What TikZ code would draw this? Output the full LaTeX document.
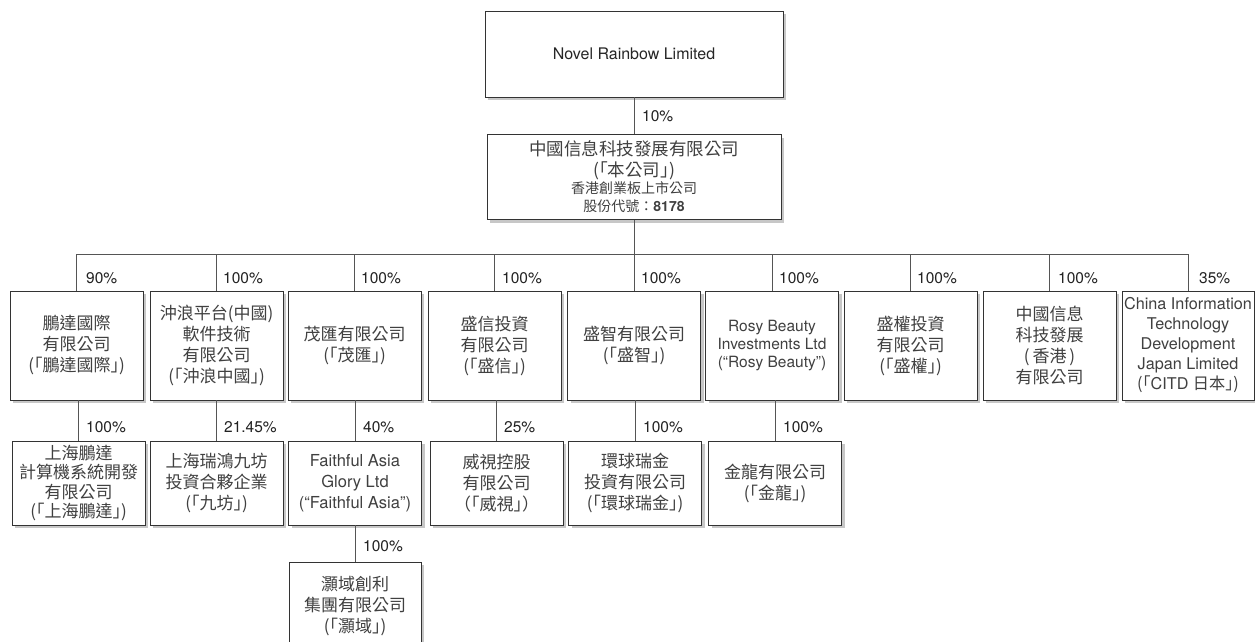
\documentclass[tikz,border=0pt]{standalone}
\usepackage{fontspec}
\setmainfont{TeX Gyre Heros}
\newfontfamily\cjk{Noto Sans CJK TC}
\newfontfamily\lat{TeX Gyre Heros}
\usetikzlibrary{shadows}
\definecolor{txt}{HTML}{404040}
\definecolor{pctc}{HTML}{222222}
\definecolor{linec}{HTML}{555555}
\definecolor{boxc}{HTML}{333333}
\begin{document}
\begin{tikzpicture}[x=1pt,y=-1pt,
  box/.style={draw=boxc, line width=0.9pt, fill=white, align=center, inner sep=1pt,
    text=txt, font=\cjk\fontsize{17}{21}\selectfont,
    drop shadow={shadow xshift=3pt, shadow yshift=-3pt, fill=black!22, opacity=1}},
  rowA/.style={box, minimum width=133pt, minimum height=109pt},
  rowB/.style={box, minimum width=133pt, minimum height=84pt},
  pct/.style={anchor=west, text=pctc, inner sep=0pt, font=\lat\fontsize{15.5}{16}\selectfont},
  conn/.style={draw=linec, line width=0.9pt}]
\useasboundingbox (0,0) rectangle (1255,641);

% top
\node[box, minimum width=298pt, minimum height=86pt, font=\lat\fontsize{16}{18}\selectfont, text=black!85] (nr) at (634,54) {Novel Rainbow Limited};
\node[box, minimum width=294pt, minimum height=85pt] (main) at (634,177)
  {\fontsize{17.5}{21}\selectfont 中國信息科技發展有限公司\\[0pt]
   \fontsize{17.5}{21}\selectfont (｢本公司｣)\\[-4pt]
   \fontsize{14}{16}\selectfont 香港創業板上市公司\\[-3pt]
   \fontsize{14}{16}\selectfont 股份代號：{\lat\bfseries 8178}};
\draw[conn] (nr.south) -- (main.north);
\node[pct] (p0) at (642,116) {10\%};

% row 1
\node[rowA] (b1) at (76.5,345.5) {鵬達國際\\有限公司\\(｢鵬達國際｣)};
\node[rowA] (b2) at (216.5,345.5) {沖浪平台(中國)\\軟件技術\\有限公司\\(｢沖浪中國｣)};
\node[rowA] (b3) at (354.5,345.5) {茂匯有限公司\\(｢茂匯｣)};
\node[rowA] (b4) at (494.5,345.5) {盛信投資\\有限公司\\(｢盛信｣)};
\node[rowA] (b5) at (634,345.5) {盛智有限公司\\(｢盛智｣)};
\node[rowA, font=\lat\fontsize{15.5}{18}\selectfont] (b6) at (772,345.5) {Rosy Beauty\\Investments Ltd\\(“Rosy Beauty”)};
\node[rowA] (b7) at (910.5,345.5) {盛權投資\\有限公司\\(｢盛權｣)};
\node[rowA] (b8) at (1049.5,345.5) {中國信息\\科技發展\\(\,香港\,)\\有限公司};
\node[rowA, minimum width=132pt, inner sep=0pt, font=\lat\fontsize{16.2}{20}\selectfont] (b9) at (1188,345.5)
  {China Information\\Technology\\Development\\Japan Limited\\{\cjk(｢}CITD {\cjk 日本｣)}};

\coordinate (bus) at (634,254);
\draw[conn] (main.south) -- (bus);
\draw[conn] (b1.north) -- (b1.north |- bus) -- (b9.north |- bus) -- (b9.north);
\foreach \b in {b2,b3,b4,b5,b6,b7,b8} \draw[conn] (\b.north) -- (\b.north |- bus);
\node[pct] (p1) at (86,278) {90\%};
\node[pct] (p2) at (223,278) {100\%};
\node[pct] (p3) at (361,278) {100\%};
\node[pct] (p4) at (502,278) {100\%};
\node[pct] (p5) at (641,278) {100\%};
\node[pct] (p6) at (779,278) {100\%};
\node[pct] (p7) at (917,278) {100\%};
\node[pct] (p8) at (1058,278) {100\%};
\node[pct] (p9) at (1199,278) {35\%};

% row 2
\node[rowB, font=\cjk\fontsize{17}{19.5}\selectfont] (c1) at (78.5,483) {上海鵬達\\計算機系統開發\\有限公司\\(｢上海鵬達｣)};
\node[rowB] (c2) at (216.5,483) {上海瑞鴻九坊\\投資合夥企業\\(｢九坊｣)};
\node[rowB, font=\lat\fontsize{16.5}{21}\selectfont] (c3) at (355,483) {Faithful Asia\\Glory Ltd\\(“Faithful Asia”)};
\node[rowB] (c4) at (496.5,483) {威視控股\\有限公司\\（｢威視｣）};
\node[rowB] (c5) at (635,483) {環球瑞金\\投資有限公司\\(｢環球瑞金｣)};
\node[rowB] (c6) at (775,483) {金龍有限公司\\(｢金龍｣)};
\foreach \b/\c in {b1/c1,b2/c2,b3/c3,b4/c4,b5/c5,b6/c6} \draw[conn] (\c.north |- \b.south) -- (\c.north);
\node[pct] (q1) at (86,427) {100\%};
\node[pct] (q2) at (224,427) {21.45\%};
\node[pct] (q3) at (363,427) {40\%};
\node[pct] (q4) at (504,427) {25\%};
\node[pct] (q5) at (643,427) {100\%};
\node[pct] (q6) at (783,427) {100\%};

% row 3
\node[box, minimum width=132pt, minimum height=88pt] (d1) at (355,606) {灝域創利\\集團有限公司\\(｢灝域｣)};
\draw[conn] (c3.south) -- (d1.north);
\node[pct] (r1) at (363,546) {100\%};
\end{tikzpicture}
\end{document}
